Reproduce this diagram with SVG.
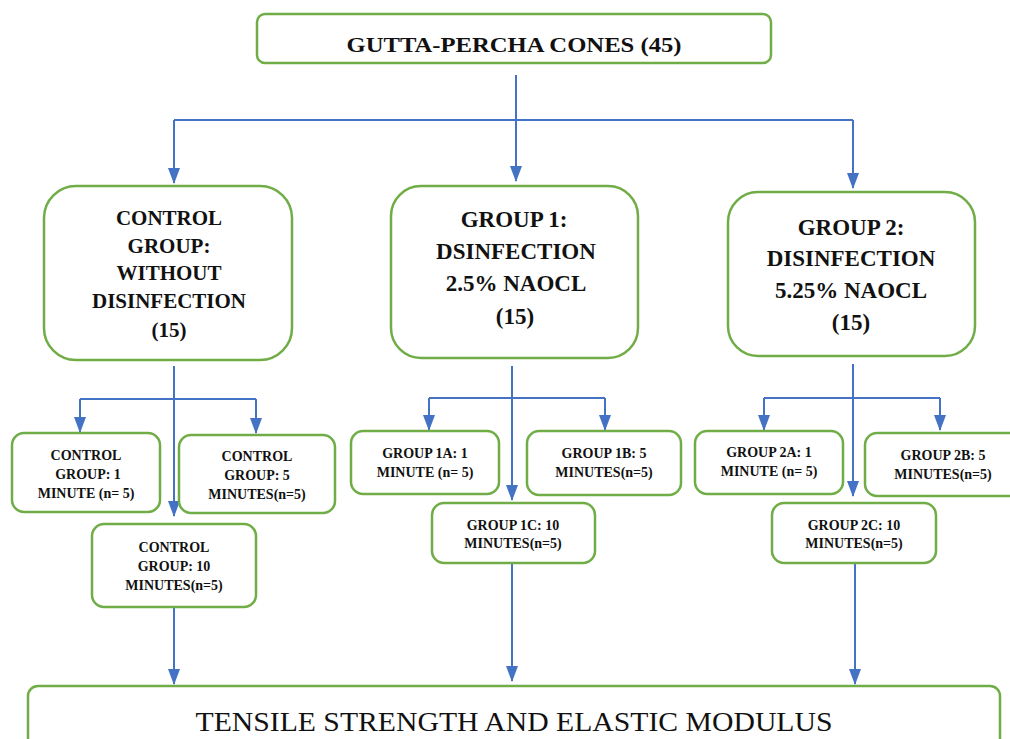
<svg xmlns="http://www.w3.org/2000/svg" width="1010" height="739" viewBox="0 0 1010 739">
<style>
.box{fill:#fff;stroke:#70AD47;stroke-width:2.5}
.ln{fill:none;stroke:#4472C4;stroke-width:2}
.arr{fill:none;stroke:#4472C4;stroke-width:2;marker-end:url(#ah)}
.t{font-family:"Liberation Serif","Times New Roman",serif;font-weight:bold;fill:#111;text-anchor:middle}
.big{font-size:21px}
.grp{font-size:23px}
.sm{font-size:14px}
</style>
<defs>
<marker id="ah" viewBox="0 0 16 12" refX="15" refY="6" markerWidth="16" markerHeight="12" markerUnits="userSpaceOnUse" orient="auto">
<path d="M0,0 L16,6 L0,12 z" fill="#4472C4"/>
</marker>
</defs>
<rect width="1010" height="739" fill="#fff"/>
<g id="connectors">
<path class="ln" d="M516,75 V120"/>
<path class="ln" d="M174,120 H853"/>
<path class="arr" d="M174,120 V183"/>
<path class="arr" d="M516,120 V181"/>
<path class="arr" d="M853,120 V188"/>
<path class="arr" d="M174,366 V516"/>
<path class="ln" d="M80,399 H256"/>
<path class="arr" d="M80,399 V432"/>
<path class="arr" d="M256,399 V433"/>
<path class="arr" d="M174,607 V684"/>
<path class="arr" d="M512,366 V500"/>
<path class="ln" d="M429,398 H605"/>
<path class="arr" d="M429,398 V430"/>
<path class="arr" d="M605,398 V430"/>
<path class="arr" d="M512,563 V681"/>
<path class="arr" d="M853,364 V496"/>
<path class="ln" d="M764,398 H940"/>
<path class="arr" d="M764,398 V430"/>
<path class="arr" d="M940,398 V430"/>
<path class="arr" d="M855,563 V684"/>
</g>
<g id="top">
<rect class="box" x="257" y="14" width="514" height="49" rx="8"/>
<text class="t" x="514" y="52" font-size="21" textLength="335" lengthAdjust="spacingAndGlyphs">GUTTA-PERCHA CONES (45)</text>
</g>
<g id="control">
<rect class="box" x="44" y="186" width="248" height="174" rx="32"/>
<text class="t big" x="169" y="225">CONTROL</text>
<text class="t big" x="169" y="253">GROUP:</text>
<text class="t big" x="169" y="280">WITHOUT</text>
<text class="t big" x="169" y="308">DISINFECTION</text>
<text class="t big" x="169" y="337">(15)</text>
</g>
<g id="group1">
<rect class="box" x="391" y="186" width="247" height="172" rx="30"/>
<text class="t grp" x="514" y="227">GROUP 1:</text>
<text class="t grp" x="516" y="259">DSINFECTION</text>
<text class="t grp" x="516" y="291">2.5% NAOCL</text>
<text class="t grp" x="515" y="324">(15)</text>
</g>
<g id="group2">
<rect class="box" x="728" y="192" width="247" height="164" rx="30"/>
<text class="t grp" x="851" y="235">GROUP 2:</text>
<text class="t grp" x="851" y="266">DISINFECTION</text>
<text class="t grp" x="851" y="298">5.25% NAOCL</text>
<text class="t grp" x="851" y="330">(15)</text>
</g>
<g id="control1">
<rect class="box" x="12" y="433" width="148" height="79" rx="12"/>
<text class="t sm" x="86" y="460">CONTROL</text>
<text class="t sm" x="88" y="479">GROUP: 1</text>
<text class="t sm" x="86" y="498">MINUTE (n= 5)</text>
</g>
<g id="control5">
<rect class="box" x="179" y="435" width="156" height="78" rx="12"/>
<text class="t sm" x="257" y="461">CONTROL</text>
<text class="t sm" x="257" y="480">GROUP: 5</text>
<text class="t sm" x="257" y="499">MINUTES(n=5)</text>
</g>
<g id="control10">
<rect class="box" x="92" y="524" width="164" height="83" rx="12"/>
<text class="t sm" x="174" y="552">CONTROL</text>
<text class="t sm" x="174" y="571">GROUP: 10</text>
<text class="t sm" x="174" y="590">MINUTES(n=5)</text>
</g>
<g id="group1a">
<rect class="box" x="351" y="431" width="148" height="63" rx="12"/>
<text class="t sm" x="425" y="458">GROUP 1A: 1</text>
<text class="t sm" x="425" y="477">MINUTE (n= 5)</text>
</g>
<g id="group1b">
<rect class="box" x="527" y="431" width="154" height="64" rx="12"/>
<text class="t sm" x="604" y="458">GROUP 1B: 5</text>
<text class="t sm" x="604" y="477">MINUTES(n=5)</text>
</g>
<g id="group1c">
<rect class="box" x="432" y="503" width="163" height="60" rx="12"/>
<text class="t sm" x="513" y="530">GROUP 1C: 10</text>
<text class="t sm" x="513" y="548">MINUTES(n=5)</text>
</g>
<g id="group2a">
<rect class="box" x="695" y="431" width="148" height="63" rx="12"/>
<text class="t sm" x="769" y="457">GROUP 2A: 1</text>
<text class="t sm" x="769" y="476">MINUTE (n= 5)</text>
</g>
<g id="group2b">
<rect class="box" x="865" y="433" width="165" height="63" rx="12"/>
<text class="t sm" x="943" y="460">GROUP 2B: 5</text>
<text class="t sm" x="943" y="479">MINUTES(n=5)</text>
</g>
<g id="group2c">
<rect class="box" x="772" y="503" width="164" height="60" rx="12"/>
<text class="t sm" x="854" y="530">GROUP 2C: 10</text>
<text class="t sm" x="854" y="548">MINUTES(n=5)</text>
</g>
<g id="bottom">
<rect class="box" x="28" y="686" width="972" height="70" rx="10"/>
<text class="t" x="514" y="731" font-size="28" font-weight="normal" style="font-weight:normal" textLength="637" lengthAdjust="spacingAndGlyphs">TENSILE STRENGTH AND ELASTIC MODULUS</text>
</g>
</svg>
